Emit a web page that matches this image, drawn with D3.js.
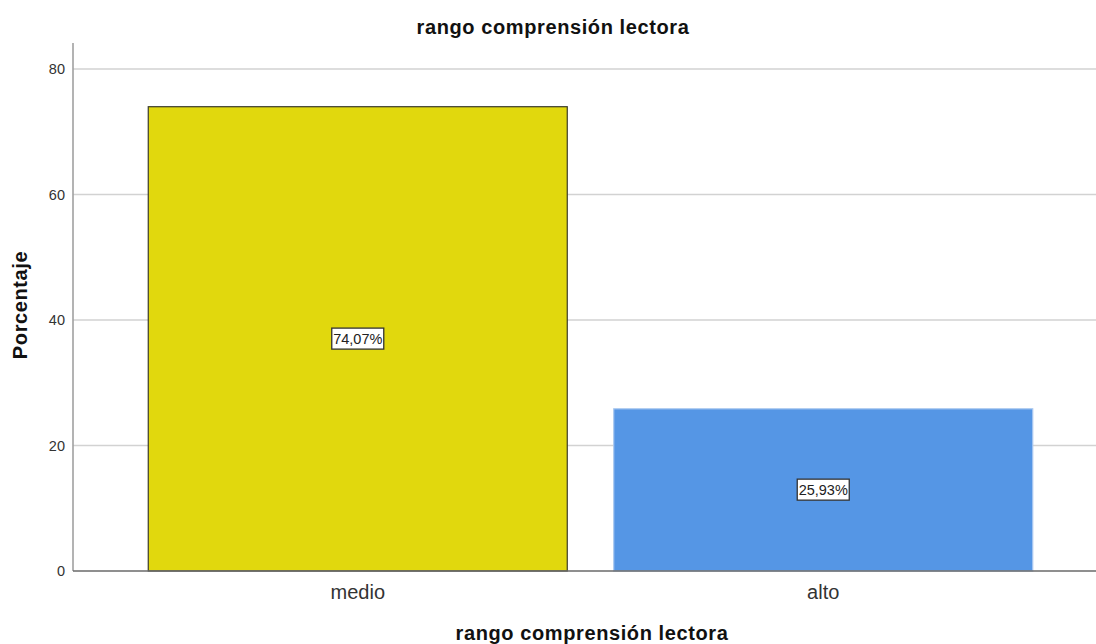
<!DOCTYPE html>
<html>
<head>
<meta charset="utf-8">
<script src="https://cdn.jsdelivr.net/npm/d3@7"></script>
<style>
  html, body { margin: 0; padding: 0; background: #fff; }
  svg { display: block; font-family: "Liberation Sans", Arial, sans-serif; }
</style>
</head>
<body>
<svg id="chart" width="1096" height="644"></svg>
<script>
const categories = ["medio", "alto"];
const values = [74.07, 25.93];
const valueLabels = ["74,07%", "25,93%"];
const yTicks = [0, 20, 40, 60, 80];
const chartTitle = "rango comprensión lectora";
const xTitle = "rango comprensión lectora";
const yTitle = "Porcentaje";
const barColors = ["#e1d80d", "#5596e5"];
const barStrokes = ["#3a3a2a", "#a9c8f0"];

const svg = d3.select("#chart");
const axisLeftX = 73, axisRightX = 1096, y0 = 571, y80 = 69, axisTopY = 43;

const y = d3.scaleLinear().domain([0, 80]).range([y0, y80]);
const x = d3.scaleBand().domain(categories).range([125, 1056]).paddingInner(0.0977).paddingOuter(0.0489);

// gridlines
svg.append("g").selectAll("line").data(yTicks.filter(d => d > 0)).join("line")
  .attr("x1", axisLeftX).attr("x2", axisRightX)
  .attr("y1", d => y(d)).attr("y2", d => y(d))
  .attr("stroke", "#d2d2d2").attr("stroke-width", 1.6);

// bars
svg.append("g").selectAll("rect").data(categories).join("rect")
  .attr("x", d => x(d) + 0.5)
  .attr("y", (d, i) => y(values[i]) + 0.5)
  .attr("width", x.bandwidth() - 1)
  .attr("height", (d, i) => y0 - y(values[i]) - 0.5)
  .attr("fill", (d, i) => barColors[i])
  .attr("stroke", (d, i) => barStrokes[i])
  .attr("stroke-width", 1.2);

// y axis
const yAxis = d3.axisLeft(y).tickValues(yTicks).tickSize(0).tickPadding(8);
const gy = svg.append("g").attr("transform", `translate(${axisLeftX},0)`).call(yAxis);
gy.select(".domain").remove();
gy.selectAll("text").attr("font-size", "14.5px").attr("fill", "#333").attr("font-family", '"Liberation Sans", Arial, sans-serif');
svg.append("line").attr("x1", axisLeftX).attr("x2", axisLeftX).attr("y1", axisTopY).attr("y2", y0)
  .attr("stroke", "#a0a0a0").attr("stroke-width", 1.6);

// x axis
const xAxis = d3.axisBottom(x).tickSize(0).tickPadding(14);
const gx = svg.append("g").attr("transform", `translate(0,${y0})`).call(xAxis);
gx.select(".domain").remove();
gx.selectAll("text").attr("font-size", "20px").attr("fill", "#333").attr("font-family", '"Liberation Sans", Arial, sans-serif');
svg.append("line").attr("x1", axisLeftX).attr("x2", axisRightX).attr("y1", y0).attr("y2", y0)
  .attr("stroke", "#6a6a6a").attr("stroke-width", 1.6);

// value labels
const lbl = svg.append("g").selectAll("g").data(categories).join("g")
  .attr("transform", (d, i) => `translate(${x(d) + x.bandwidth() / 2},${(y(values[i]) + y0) / 2})`);
lbl.append("rect").attr("x", -26).attr("y", -10.5).attr("width", 52).attr("height", 21)
  .attr("fill", "#fff").attr("stroke", "#333").attr("stroke-width", 1.3);
lbl.append("text").attr("text-anchor", "middle").attr("dy", "0.36em")
  .attr("font-size", "14.5px").attr("fill", "#222").text((d, i) => valueLabels[i]);

// titles
svg.append("text").attr("x", 553).attr("y", 34).attr("text-anchor", "middle")
  .attr("font-size", "20px").attr("font-weight", "bold").attr("letter-spacing", "0.6px").attr("fill", "#111").text(chartTitle);
svg.append("text").attr("x", 592).attr("y", 640).attr("text-anchor", "middle")
  .attr("font-size", "20px").attr("font-weight", "bold").attr("letter-spacing", "0.6px").attr("fill", "#111").text(xTitle);
svg.append("text").attr("transform", "translate(27,305) rotate(-90)").attr("text-anchor", "middle")
  .attr("font-size", "20px").attr("font-weight", "bold").attr("letter-spacing", "0.6px").attr("fill", "#111").text(yTitle);
</script>
</body>
</html>
